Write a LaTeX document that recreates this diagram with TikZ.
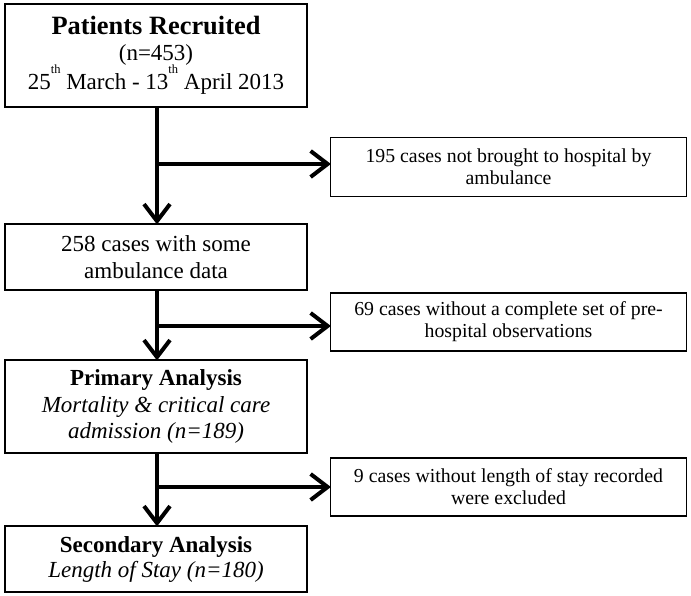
\documentclass[tikz,border=0pt]{standalone}
\usepackage{fontspec}
\setmainfont{Liberation Serif}
\usetikzlibrary{arrows.meta}
\newcommand{\supth}{\raisebox{16pt}{\fontsize{12.5}{13}\selectfont th}}
\begin{document}
\begin{tikzpicture}[x=1pt,y=-1pt,
  box/.style={draw=black, line width=1.2pt, inner sep=0pt, align=center},
  lbox/.style={box, minimum width=302pt, font=\fontsize{23}{26.5}\selectfont},
  rbox/.style={box, minimum width=356pt, minimum height=59pt, font=\fontsize{19.8}{22}\selectfont},
  flow/.style={line width=4.5pt, -{Straight Barb[length=17pt,width=26pt,line width=4pt]}, shorten >=-1pt}
]
\useasboundingbox (0,0) rectangle (691,596);
\node[lbox, minimum height=103pt] (rec) at (156,55.5)
  {{\fontsize{26.4}{30}\selectfont\bfseries Patients Recruited}\\[-1pt]
   {\fontsize{23}{30}\selectfont (n=453)}\\[-1pt]
   {\fontsize{23}{30}\selectfont 25\supth{} March - 13\supth{} April 2013}};
\node[rbox] (ex1) at (508.5,167)
  {195 cases not brought to hospital by\\ambulance};
\node[lbox, minimum height=66pt] (amb) at (156,257)
  {258 cases with some\\ambulance data};
\node[rbox, minimum height=58pt] (ex2) at (508.5,322)
  {69 cases without a complete set of pre-\\hospital observations};
\node[lbox, minimum height=93pt] (prim) at (156,406.5)
  {\textbf{Primary Analysis}\\\textit{Mortality \& critical care}\\\textit{admission (n=189)}};
\node[rbox, minimum height=58pt] (ex3) at (508.5,487)
  {9 cases without length of stay recorded\\were excluded};
\node[lbox, minimum height=66pt, font=\fontsize{23}{25}\selectfont] (sec) at (156,559)
  {\textbf{Secondary Analysis}\\\textit{Length of Stay (n=180)}};
\coordinate (b1) at (157,164);
\coordinate (b2) at (157,326);
\coordinate (b3) at (157,487);
\draw[flow] (rec.south -| b1) -- (amb.north -| b1);
\draw[flow] (b1) -- (ex1.west |- b1);
\draw[flow] (amb.south -| b2) -- (prim.north -| b2);
\draw[flow] (b2) -- (ex2.west |- b2);
\draw[flow] (prim.south -| b3) -- (sec.north -| b3);
\draw[flow] (b3) -- (ex3.west |- b3);
\end{tikzpicture}
\end{document}
